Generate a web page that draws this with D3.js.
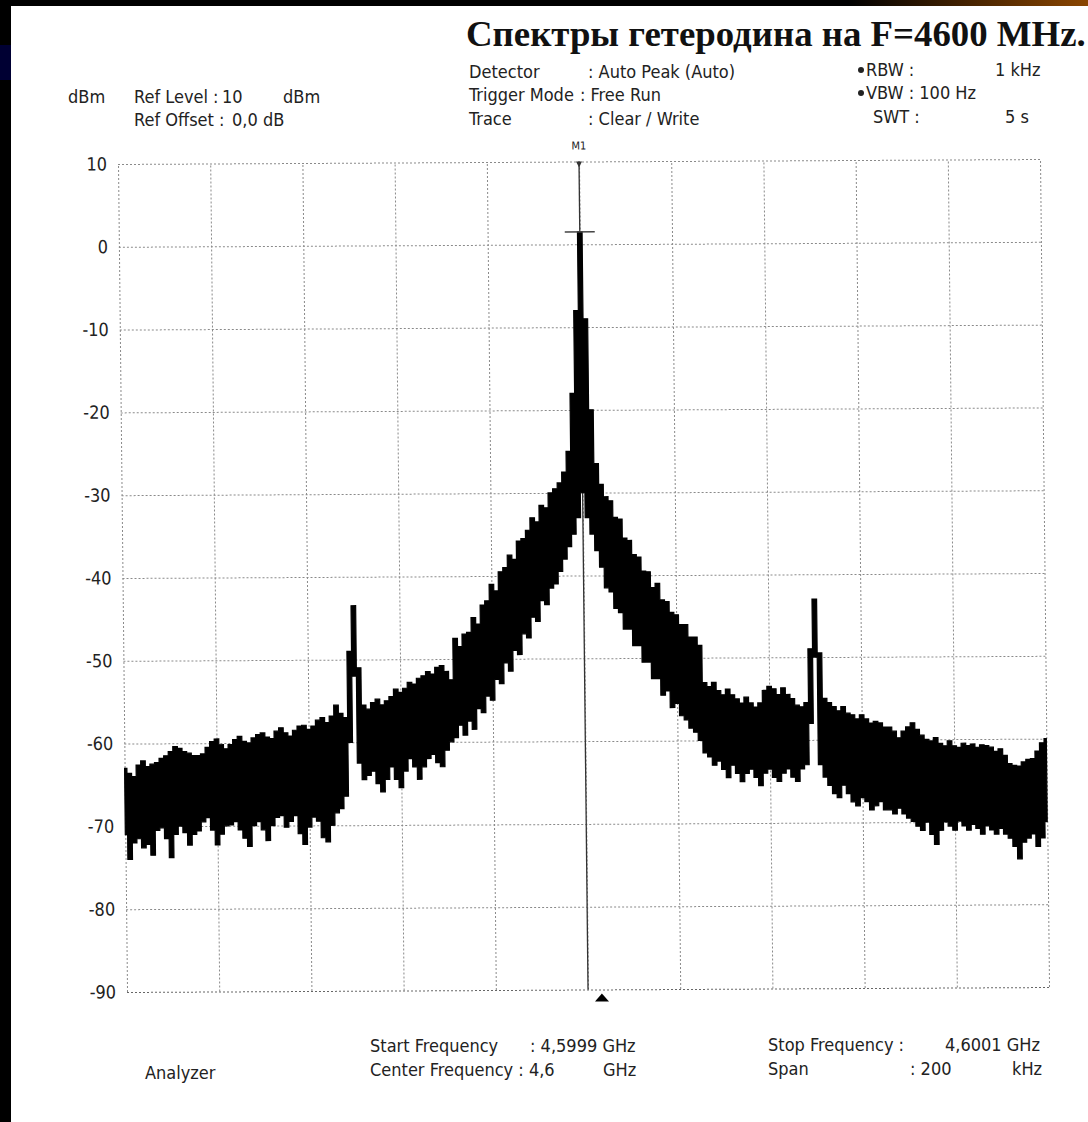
<!DOCTYPE html>
<html>
<head>
<meta charset="utf-8">
<script src="https://cdn.jsdelivr.net/npm/d3@7"></script>
<style>
  body { margin: 0; background: #fff; }
  .lbl { font-family: "Liberation Sans Narrow", "DejaVu Sans Condensed", "Liberation Sans", sans-serif; font-size: 18px; fill: #222; }
  .ytick text { font-family: "Liberation Sans Narrow", "DejaVu Sans Condensed", sans-serif; font-size: 18px; fill: #222; }
  .grid line { stroke: #8a8a8a; stroke-dasharray: 2,2; stroke-width: 1; }
  .grid path { display: none; }
</style>
</head>
<body>
<svg width="1088" height="1122"></svg>
<script>
var svg = d3.select('svg');

// ---- data ----
var freqKHz = [
  -100,-99,-98,-97,-96,-95,-94,-93,-92,-91,-90,-89,-88,-87,-86,-85,-84,-83,-82,-81,
  -80,-79,-78,-77,-76,-75,-74,-73,-72,-71,-70,-69,-68,-67,-66,-65,-64,-63,-62,-61,
  -60,-59,-58,-57,-56,-55,-54,-53,-52,-51,-50,-49,-48,-47,-46,-45,-44,-43,-42,-41,
  -40,-39,-38,-37,-36,-35,-34,-33,-32,-31,-30,-29,-28,-27,-26,-25,-24,-23,-22,-21,
  -20,-19,-18,-17,-16,-15,-14,-13,-12,-11,-10,-9,-8,-7,-6,-5,-4,-3,-2,-1,
  0,
  1,2,3,4,5,6,7,8,9,10,11,12,13,14,15,16,17,18,19,20,
  21,22,23,24,25,26,27,28,29,30,31,32,33,34,35,36,37,38,39,40,
  41,42,43,44,45,46,47,48,49,50,51,52,53,54,55,56,57,58,59,60,
  61,62,63,64,65,66,67,68,69,70,71,72,73,74,75,76,77,78,79,80,
  81,82,83,84,85,86,87,88,89,90,91,92,93,94,95,96,97,98,99,100
];
// upper envelope of the trace (dBm)
var peakDbm = [
  -63.0,-63.6,-64.0,-62.6,-62.1,-62.8,-62.5,-62.3,-61.8,-61.5,
  -61.0,-60.4,-60.6,-61.0,-61.2,-61.5,-61.5,-61.3,-60.5,-59.8,
  -59.5,-60.2,-60.7,-60.2,-59.6,-59.2,-59.8,-60.0,-59.4,-59.0,
  -58.8,-59.3,-59.5,-58.6,-58.2,-58.8,-59.2,-58.5,-58.0,-57.9,
  -58.4,-58.0,-57.3,-57.0,-57.6,-56.8,-55.5,-56.5,-57.0,-49.0,
  -43.5,-51.0,-55.5,-56.0,-55.2,-54.8,-55.5,-55.0,-54.5,-53.6,
  -54.0,-53.5,-52.8,-53.0,-52.3,-52.0,-51.5,-51.8,-51.0,-50.8,
  -51.5,-52.5,-47.5,-48.5,-47.0,-46.8,-45.0,-45.8,-43.5,-43.0,
  -41.0,-41.8,-39.5,-39.0,-37.5,-38.0,-35.8,-35.5,-34.5,-33.0,
  -33.5,-31.5,-31.8,-30.0,-29.5,-28.8,-27.5,-25.0,-18.0,-8.0,
  1.5,
  -9.0,-20.0,-26.5,-29.0,-30.5,-31.0,-33.0,-33.2,-35.5,-35.8,
  -37.5,-37.8,-39.5,-39.6,-41.5,-41.0,-43.0,-43.2,-44.5,-44.8,
  -46.0,-46.0,-47.5,-47.5,-48.5,-53.0,-53.5,-53.0,-54.0,-54.5,
  -53.8,-54.5,-55.0,-55.5,-54.8,-55.5,-56.0,-55.5,-54.0,-53.5,
  -53.8,-54.5,-53.7,-54.5,-55.0,-55.8,-56.0,-55.5,-49.0,-43.0,
  -49.5,-55.0,-55.5,-56.0,-56.5,-56.0,-56.8,-57.0,-57.5,-57.0,
  -57.5,-58.0,-57.8,-58.0,-58.5,-58.5,-59.0,-59.8,-59.0,-58.5,
  -58.0,-58.8,-59.5,-60.0,-60.2,-59.8,-60.5,-60.8,-60.2,-60.8,
  -61.0,-60.5,-60.8,-60.6,-61.0,-60.7,-60.8,-61.0,-61.5,-61.2,
  -62.0,-63.0,-63.2,-63.3,-62.8,-62.5,-62.4,-61.5,-60.5,-60.0
];
// lower envelope of the trace (dBm)
var troughDbm = [
  -71.0,-74.0,-72.0,-71.5,-72.6,-72.2,-73.5,-70.5,-70.2,-71.5,
  -73.8,-71.0,-70.0,-70.8,-72.3,-71.0,-70.6,-69.5,-69.0,-70.5,
  -72.3,-71.0,-70.0,-69.9,-69.5,-70.5,-71.5,-72.5,-70.0,-69.5,
  -70.5,-71.8,-70.0,-69.0,-68.8,-70.2,-69.5,-68.8,-71.0,-72.3,
  -70.2,-69.0,-69.5,-71.5,-72.0,-70.0,-68.5,-68.0,-66.5,-60.0,
  -52.0,-62.5,-64.5,-64.0,-63.5,-65.0,-66.0,-64.5,-63.0,-64.5,
  -65.5,-63.5,-62.0,-63.0,-64.5,-63.0,-62.0,-61.5,-62.5,-63.0,
  -61.0,-60.0,-59.5,-58.0,-59.2,-57.5,-58.5,-56.0,-56.5,-54.5,
  -55.0,-52.5,-53.0,-50.5,-51.5,-49.0,-49.5,-47.0,-47.5,-45.0,
  -45.5,-43.0,-43.5,-41.5,-41.0,-39.5,-38.0,-36.5,-35.0,-33.0,
  -30.0,
  -33.0,-35.0,-37.0,-39.0,-41.5,-42.0,-44.0,-44.5,-46.5,-46.5,
  -48.5,-48.5,-50.5,-50.5,-52.5,-52.5,-54.5,-54.0,-56.0,-55.5,
  -57.0,-57.5,-58.5,-59.0,-60.0,-61.5,-62.0,-63.0,-62.5,-63.5,
  -64.5,-63.0,-64.0,-65.0,-64.0,-63.5,-64.5,-65.5,-64.0,-63.5,
  -64.5,-65.0,-64.0,-63.5,-64.5,-65.0,-63.5,-63.0,-58.0,-50.0,
  -63.0,-64.5,-65.5,-66.5,-67.0,-65.5,-66.5,-67.5,-68.0,-67.0,
  -67.5,-68.5,-68.0,-67.5,-68.5,-68.5,-69.0,-68.3,-69.0,-69.5,
  -69.9,-70.5,-71.0,-70.0,-71.5,-72.7,-71.0,-70.0,-70.5,-71.0,
  -69.9,-70.5,-71.0,-70.3,-70.8,-71.5,-70.5,-71.0,-71.5,-70.8,
  -71.5,-72.0,-73.0,-74.5,-72.5,-72.0,-71.5,-73.0,-72.0,-70.0
];

var yTicks = [10, 0, -10, -20, -30, -40, -50, -60, -70, -80, -90];
var yTickLabels = ['10', '0', '-10', '-20', '-30', '-40', '-50', '-60', '-70', '-80', '-90'];
var xTicks = [-100, -80, -60, -40, -20, 0, 20, 40, 60, 80, 100];
var markerKHz = 0;
var triangleKHz = 3;

// ---- layout (plot is slightly skewed like the scanned page) ----
var W = 922, H = 828;
var x = d3.scaleLinear().domain([-100, 100]).range([0, W]);
var y = d3.scaleLinear().domain([-90, 10]).range([H, 0]);

// scan frame
var grad = svg.append('defs').append('linearGradient').attr('id', 'topgrad');
grad.append('stop').attr('offset', '0.78').attr('stop-color', '#000');
grad.append('stop').attr('offset', '1').attr('stop-color', '#8a4500');
svg.append('rect').attr('x', 0).attr('y', 0).attr('width', 1088).attr('height', 6).attr('fill', 'url(#topgrad)');
svg.append('rect').attr('x', 0).attr('y', 0).attr('width', 11).attr('height', 1122).attr('fill', '#000');
svg.append('rect').attr('x', 0).attr('y', 45).attr('width', 11).attr('height', 35).attr('fill', '#000033');

var plot = svg.append('g').attr('transform', 'matrix(1,-0.0054,0.0109,1,118,164)');

// grid through axes
plot.append('g').attr('class', 'grid')
    .attr('transform', 'translate(0,' + H + ')')
    .call(d3.axisBottom(x).tickValues(xTicks).tickSize(-H).tickFormat(''));
plot.append('g').attr('class', 'grid ytick')
    .call(d3.axisLeft(y).tickValues(yTicks).tickSize(-W).tickPadding(11)
        .tickFormat(function(d, i){ return yTickLabels[i]; }));
plot.selectAll('.ytick text').attr('fill', '#222');
plot.selectAll('.ytick line').filter(function(d){ return d === -90; }).style('stroke', '#666');

// marker line at the centre frequency
plot.append('line')
    .attr('x1', x(markerKHz)).attr('x2', x(markerKHz))
    .attr('y1', 0).attr('y2', H)
    .attr('stroke', '#333').attr('stroke-width', 1.3);

// trace (min / max envelope), stepped like the analyser's sweep points
var rows = freqKHz.map(function(f, i){ return {f: f, hi: peakDbm[i], lo: troughDbm[i]}; });
var band = d3.area()
    .curve(d3.curveStep)
    .x(function(d){ return x(d.f); })
    .y0(function(d){ return y(d.lo); })
    .y1(function(d){ return y(d.hi); });
plot.append('path').attr('d', band(rows))
    .attr('fill', '#000').attr('stroke', '#000').attr('stroke-width', 1.2);

// marker M1
var peak = d3.max(peakDbm);
plot.append('line')
    .attr('x1', x(markerKHz) - 15).attr('x2', x(markerKHz) + 15)
    .attr('y1', y(peak)).attr('y2', y(peak))
    .attr('stroke', '#444').attr('stroke-width', 1.5);
plot.append('path')
    .attr('d', 'M' + (x(markerKHz) - 3) + ',0 L' + (x(markerKHz) + 3) + ',0 L' + x(markerKHz) + ',6 Z')
    .attr('fill', '#333');
plot.append('text').attr('class', 'lbl')
    .attr('x', x(markerKHz)).attr('y', -12)
    .attr('text-anchor', 'middle').style('font-size', '11px').text('M1');
plot.append('path')
    .attr('d', 'M' + (x(triangleKHz) - 7) + ',' + (H + 12) + ' L' + (x(triangleKHz) + 7) + ',' + (H + 12) + ' L' + x(triangleKHz) + ',' + (H + 4) + ' Z')
    .attr('fill', '#000');

// ---- header / footer text ----
function txt(s, tx, ty) {
    return svg.append('text').attr('class', 'lbl').attr('x', tx).attr('y', ty).text(s);
}
txt('dBm', 68, 103);
txt('Ref Level :', 134, 103); txt('10', 222, 103); txt('dBm', 283, 103);
txt('Ref Offset :', 134, 126); txt('0,0 dB', 232, 126);

txt('Detector', 469, 78); txt(': Auto Peak (Auto)', 588, 78);
txt('Trigger Mode', 469, 101); txt(': Free Run', 580, 101);
txt('Trace', 469, 125); txt(': Clear / Write', 588, 125);

svg.append('circle').attr('cx', 861).attr('cy', 70).attr('r', 3).attr('fill', '#222');
txt('RBW :', 866, 76); txt('1 kHz', 995, 76);
svg.append('circle').attr('cx', 861).attr('cy', 93).attr('r', 3).attr('fill', '#222');
txt('VBW : 100 Hz', 866, 99);
txt('SWT :', 873, 123); txt('5 s', 1005, 123);

txt('Start Frequency', 370, 1052); txt(': 4,5999 GHz', 530, 1052);
txt('Center Frequency : 4,6', 370, 1076); txt('GHz', 603, 1076);
txt('Analyzer', 145, 1079);
txt('Stop Frequency :', 768, 1051); txt('4,6001 GHz', 945, 1051);
txt('Span', 768, 1075); txt(': 200', 910, 1075); txt('kHz', 1012, 1075);

// title, fitted to the width it takes on the slide
var title = svg.append('text')
    .attr('x', 466).attr('y', 46)
    .style('font-family', '"Liberation Serif", "DejaVu Serif", serif')
    .style('font-weight', 'bold').style('font-size', '100px')
    .attr('fill', '#111')
    .text('Спектры гетеродина на F=4600 MHz.');
var len = title.node().getComputedTextLength();
title.style('font-size', (100 * 620 / len) + 'px');
</script>
</body>
</html>
